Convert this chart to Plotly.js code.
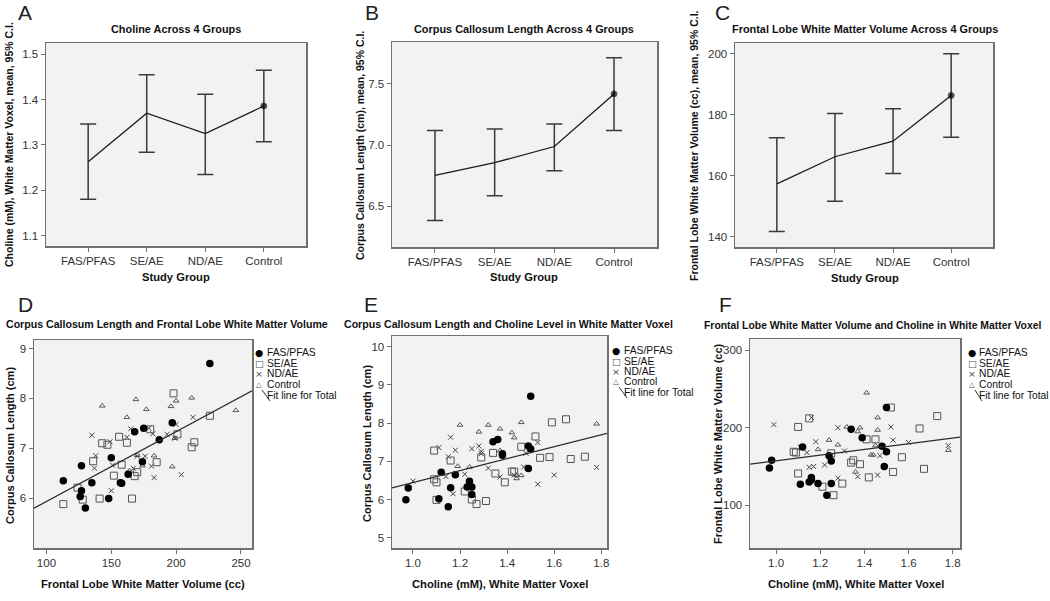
<!DOCTYPE html>
<html>
<head>
<meta charset="utf-8">
<script src="https://cdn.plot.ly/plotly-3.0.1.min.js"></script>
<style>
  html, body { margin: 0; padding: 0; background: #fff; }
  #chart { width: 1050px; height: 601px; }
</style>
</head>
<body>
<div id="chart"></div>
<script>
const GROUPS = ['FAS/PFAS', 'SE/AE', 'ND/AE', 'Control'];

// A-C: group means with 95% C.I.
const CHOLINE_MEAN = [1.263, 1.370, 1.325, 1.386];
const CHOLINE_LO = [1.180, 1.284, 1.235, 1.307];
const CHOLINE_HI = [1.346, 1.455, 1.412, 1.465];

const CC_MEAN = [6.754, 6.857, 6.989, 7.419];
const CC_LO = [6.384, 6.586, 6.792, 7.119];
const CC_HI = [7.119, 7.132, 7.173, 7.714];

const WM_MEAN = [157.3, 166.2, 171.3, 186.3];
const WM_LO = [141.7, 151.6, 160.7, 172.6];
const WM_HI = [172.4, 180.4, 181.9, 200.0];

// D: frontal lobe WM volume (x) vs corpus callosum length (y)
const D_FAS_X = [113, 127, 127, 126, 130, 135, 148, 150, 157, 158, 163, 168, 175, 174, 187, 197, 226];
const D_FAS_Y = [6.35, 6.65, 6.15, 6.03, 5.80, 6.31, 5.99, 6.81, 6.31, 6.30, 6.48, 7.33, 7.40, 6.73, 7.17, 7.51, 8.70];
const D_SE_X = [113, 124, 128, 136, 141, 143, 147, 152, 156, 158, 162, 166, 168, 170, 180, 185, 198, 201, 212, 214, 226];
const D_SE_Y = [5.88, 6.21, 5.97, 6.74, 5.99, 7.10, 7.07, 6.45, 7.23, 6.67, 7.11, 5.99, 6.44, 6.52, 7.38, 6.72, 8.10, 7.28, 7.02, 7.12, 7.65];
const D_ND_X = [135, 137, 138, 149, 150, 151, 162, 165, 167, 170, 176, 179, 181, 182, 183, 193, 199, 200, 204, 213];
const D_ND_Y = [7.26, 6.60, 6.85, 7.13, 6.15, 6.66, 7.22, 7.39, 6.60, 6.84, 6.84, 7.40, 6.64, 7.29, 6.41, 7.28, 7.20, 7.48, 6.47, 7.62];
const D_CTL_X = [143, 162, 164, 169, 170, 174, 177, 183, 196, 197, 199, 200, 212, 246];
const D_CTL_Y = [7.85, 7.62, 6.55, 7.98, 6.86, 6.65, 7.78, 6.85, 7.84, 6.63, 7.20, 7.95, 8.01, 7.76];
const D_FIT = { intercept: 4.532, slope: 0.014 };

// E: choline (x) vs corpus callosum length (y)
const E_FAS_X = [0.97, 0.98, 1.11, 1.12, 1.15, 1.16, 1.18, 1.23, 1.24, 1.25, 1.25, 1.34, 1.36, 1.38, 1.38, 1.49, 1.50, 1.49, 1.50];
const E_FAS_Y = [5.99, 6.30, 6.02, 6.71, 5.81, 6.31, 6.65, 6.33, 6.48, 6.33, 6.13, 7.51, 7.57, 7.16, 7.20, 7.40, 7.32, 6.81, 8.70];
const E_SE_X = [1.09, 1.09, 1.10, 1.10, 1.16, 1.22, 1.25, 1.27, 1.29, 1.31, 1.34, 1.35, 1.39, 1.42, 1.43, 1.46, 1.52, 1.54, 1.58, 1.59, 1.65, 1.67, 1.73];
const E_SE_Y = [7.28, 6.53, 6.45, 5.99, 7.02, 6.21, 6.00, 5.88, 7.10, 5.96, 7.22, 6.68, 6.45, 6.73, 6.73, 7.38, 7.65, 7.09, 7.11, 8.02, 8.10, 7.06, 7.12];
const E_ND_X = [1.00, 1.11, 1.14, 1.15, 1.16, 1.17, 1.18, 1.22, 1.25, 1.28, 1.29, 1.29, 1.32, 1.37, 1.43, 1.47, 1.48, 1.53, 1.53, 1.60, 1.78];
const E_ND_Y = [6.48, 7.36, 6.60, 7.12, 7.63, 6.15, 7.29, 6.66, 7.33, 7.40, 7.20, 7.26, 6.82, 6.59, 6.64, 6.85, 7.21, 7.49, 6.40, 6.64, 6.84];
const E_CTL_X = [1.19, 1.20, 1.24, 1.28, 1.32, 1.37, 1.37, 1.42, 1.43, 1.44, 1.44, 1.46, 1.46, 1.78];
const E_CTL_Y = [6.87, 7.95, 6.85, 7.77, 7.95, 7.85, 7.28, 7.75, 7.62, 6.63, 6.55, 6.63, 8.02, 7.98];
const E_FIT = { intercept: 4.883, slope: 1.561 };

// F: choline (x) vs frontal lobe WM volume (y)
const F_FAS_X = [0.97, 0.98, 1.11, 1.12, 1.15, 1.16, 1.16, 1.19, 1.23, 1.24, 1.25, 1.25, 1.34, 1.39, 1.48, 1.49, 1.50, 1.50];
const F_FAS_Y = [148, 158, 127, 175, 130, 136, 133, 128, 113, 164, 157, 128, 198, 187, 176, 150, 169, 226];
const F_SE_X = [1.08, 1.09, 1.10, 1.10, 1.15, 1.21, 1.25, 1.26, 1.30, 1.34, 1.35, 1.38, 1.41, 1.42, 1.45, 1.52, 1.53, 1.57, 1.65, 1.67, 1.73];
const F_SE_Y = [169, 168, 141, 201, 212, 124, 167, 113, 128, 155, 158, 153, 185, 136, 185, 226, 143, 162, 199, 147, 215];
const F_ND_X = [0.99, 1.11, 1.14, 1.15, 1.16, 1.17, 1.18, 1.22, 1.28, 1.28, 1.31, 1.37, 1.46, 1.47, 1.52, 1.53, 1.60, 1.78];
const F_ND_Y = [204, 175, 168, 149, 213, 150, 182, 152, 200, 135, 170, 137, 139, 164, 201, 184, 181, 177];
const F_CTL_X = [1.19, 1.24, 1.28, 1.32, 1.36, 1.37, 1.38, 1.41, 1.43, 1.44, 1.45, 1.46, 1.46, 1.78];
const F_CTL_Y = [172, 184, 178, 201, 143, 195, 200, 245, 165, 165, 177, 213, 197, 171];
const F_FIT = { intercept: 120.5, slope: 36.8 };

const W = 1050, H = 601;
const FONT = 'Liberation Sans, Arial, Helvetica, sans-serif';
const FRAME = '#707070';
const INK = '#333';

// panel frames in page pixels: [left, top, right, bottom]
const BOXES = {
  A: [46, 43, 306, 246],
  B: [392, 42, 657, 247],
  C: [735, 43, 993, 247],
  D: [34, 340, 252, 548],
  E: [392, 336, 607, 548],
  F: [750, 339, 960, 548],
};

function px(x) { return x / W; }
function py(y) { return 1 - y / H; }

function axis(box, isX, extra) {
  const [l, t, r, b] = box;
  return Object.assign({
    domain: isX ? [px(l), px(r)] : [py(b), py(t)],
    showgrid: false,
    zeroline: false,
    showline: true,
    mirror: true,
    linecolor: FRAME,
    linewidth: 1.5,
    ticks: 'outside',
    ticklen: 4,
    tickwidth: 1,
    tickcolor: FRAME,
    tickfont: { family: FONT, size: 11.5, color: INK },
    fixedrange: true,
  }, extra);
}

const data = [];
const layout = {
  width: W,
  height: H,
  margin: { l: 0, r: 0, t: 0, b: 0 },
  paper_bgcolor: '#fff',
  plot_bgcolor: '#f2f2f2',
  showlegend: false,
  annotations: [],
  shapes: [],
};

// --- top row: means with error bars ---
function addMeans(n, key, mean, lo, hi, yExtra) {
  const xa = 'x' + (n === 1 ? '' : n);
  const ya = 'y' + (n === 1 ? '' : n);
  data.push({
    x: GROUPS,
    y: mean,
    xaxis: xa,
    yaxis: ya,
    mode: 'lines+markers',
    line: { color: '#1a1a1a', width: 1.3 },
    marker: { color: '#000', size: mean.map((v, i) => i === mean.length - 1 ? 6 : 0) },
    error_y: {
      type: 'data',
      symmetric: false,
      array: hi.map((v, i) => v - mean[i]),
      arrayminus: mean.map((v, i) => v - lo[i]),
      color: '#3a3a3a',
      thickness: 1.5,
      width: 8,
    },
    hoverinfo: 'skip',
  });
  layout['xaxis' + (n === 1 ? '' : n)] = axis(BOXES[key], true, {
    anchor: ya, type: 'category', categoryarray: GROUPS, range: [-0.72, 3.72],
  });
  layout['yaxis' + (n === 1 ? '' : n)] = axis(BOXES[key], false, Object.assign({ anchor: xa }, yExtra));
}

addMeans(1, 'A', CHOLINE_MEAN, CHOLINE_LO, CHOLINE_HI, { range: [1.077, 1.525], dtick: 0.1, tickformat: '.1f' });
addMeans(2, 'B', CC_MEAN, CC_LO, CC_HI, { range: [6.168, 7.843], dtick: 0.5, tickformat: '.1f' });
addMeans(3, 'C', WM_MEAN, WM_LO, WM_HI, { range: [136.6, 203.5], dtick: 20 });

// --- bottom row: scatter by group with fit line ---
const GROUP_STYLE = [
  { symbol: 'circle', size: 7.5, color: '#000', line: { width: 0 } },
  { symbol: 'square-open', size: 7, color: '#555', line: { width: 1, color: '#555' } },
  { symbol: 'x-thin-open', size: 5, color: '#444', line: { width: 1, color: '#444' } },
  { symbol: 'triangle-up-open', size: 5, color: '#555', line: { width: 1, color: '#555' } },
];

function addScatter(n, key, series, fit, xRange, yRange, xExtra, yExtra) {
  const xa = 'x' + n, ya = 'y' + n;
  // draw controls first, FAS on top
  [3, 2, 1, 0].forEach(g => {
    data.push({
      x: series[g][0],
      y: series[g][1],
      xaxis: xa,
      yaxis: ya,
      mode: 'markers',
      marker: GROUP_STYLE[g],
      cliponaxis: false,
      hoverinfo: 'skip',
    });
  });
  data.push({
    x: xRange,
    y: xRange.map(v => fit.intercept + fit.slope * v),
    xaxis: xa,
    yaxis: ya,
    mode: 'lines',
    line: { color: '#2a2a2a', width: 1.2 },
    hoverinfo: 'skip',
  });
  layout['xaxis' + n] = axis(BOXES[key], true, Object.assign({ anchor: ya, range: xRange }, xExtra));
  layout['yaxis' + n] = axis(BOXES[key], false, Object.assign({ anchor: xa, range: yRange }, yExtra));
}

addScatter(4, 'D',
  [[D_FAS_X, D_FAS_Y], [D_SE_X, D_SE_Y], [D_ND_X, D_ND_Y], [D_CTL_X, D_CTL_Y]],
  D_FIT, [90.4, 258.5], [5.0, 9.17],
  { tickvals: [100, 150, 200, 250] }, { tickvals: [6, 7, 8, 9] });
addScatter(5, 'E',
  [[E_FAS_X, E_FAS_Y], [E_SE_X, E_SE_Y], [E_ND_X, E_ND_Y], [E_CTL_X, E_CTL_Y]],
  E_FIT, [0.911, 1.824], [4.73, 10.28],
  { dtick: 0.2, tick0: 1.0, tickformat: '.1f' }, { dtick: 1 });
addScatter(6, 'F',
  [[F_FAS_X, F_FAS_Y], [F_SE_X, F_SE_Y], [F_ND_X, F_ND_Y], [F_CTL_X, F_CTL_Y]],
  F_FIT, [0.882, 1.833], [45, 314.3],
  { dtick: 0.2, tick0: 1.0, tickformat: '.1f' }, { dtick: 100 });

// --- text ---
function note(text, x, y, size, extra) {
  layout.annotations.push(Object.assign({
    text, x: px(x), y: py(y), xref: 'paper', yref: 'paper',
    showarrow: false, xanchor: 'center', yanchor: 'middle',
    font: { family: FONT, size, color: '#111' },
  }, extra));
}

// panel letters
[['A', 25, 13], ['B', 372, 13], ['C', 722, 13], ['D', 25, 304], ['E', 371, 304], ['F', 725, 304]]
  .forEach(([t, x, y]) => note(t, x, y, 21, { font: { family: FONT, size: 21, color: '#222' } }));

// panel titles
note('<b>Choline Across 4 Groups</b>', 176, 29, 10.9);
note('<b>Corpus Callosum Length Across 4 Groups</b>', 524, 29, 10.9);
note('<b>Frontal Lobe White Matter Volume Across 4 Groups</b>', 865, 29, 10.9);
note('<b>Corpus Callosum Length and Frontal Lobe White Matter Volume</b>', 167, 324, 10.6);
note('<b>Corpus Callosum Length and Choline Level in White Matter Voxel</b>', 508, 324, 10.6);
note('<b>Frontal Lobe White Matter Volume and Choline in White Matter Voxel</b>', 872, 325, 10.4);

// axis titles
note('<b>Study Group</b>', 176, 277, 11.2);
note('<b>Study Group</b>', 524, 277, 11.2);
note('<b>Study Group</b>', 865, 278, 11.2);
note('<b>Choline (mM), White Matter Voxel, mean, 95% C.I.</b>', 9, 145, 10.5, { textangle: -90 });
note('<b>Corpus Callosum Length (cm), mean, 95% C.I.</b>', 360, 146, 10.5, { textangle: -90 });
note('<b>Frontal Lobe White Matter Volume (cc), mean, 95% C.I.</b>', 694, 146, 10.5, { textangle: -90 });

note('<b>Frontal Lobe White Matter Volume (cc)</b>', 143, 584, 11.2);
note('<b>Choline (mM), White Matter Voxel</b>', 500, 584, 11.2);
note('<b>Choline (mM), White Matter Voxel</b>', 856, 584, 11.2);
note('<b>Corpus Callosum Length (cm)</b>', 10, 446, 11, { textangle: -90 });
note('<b>Corpus Callosum Length (cm)</b>', 367, 444, 11, { textangle: -90 });
note('<b>Frontal Lobe White Matter Volume (cc)</b>', 718, 444, 11, { textangle: -90 });

// legends for scatter panels
const LEGEND_GLYPHS = [
  { t: '●', size: 9.5, color: '#000' },
  { t: '□', size: 9.5, color: '#555' },
  { t: '×', size: 9.5, color: '#444' },
  { t: '△', size: 7.5, color: '#555' },
];
function legend(markX, textX, rowY) {
  const f = { family: FONT, size: 10.3, color: '#111' };
  GROUPS.forEach((g, i) => {
    const gl = LEGEND_GLYPHS[i];
    note(gl.t, markX, rowY[i], gl.size, { font: { family: 'DejaVu Sans', size: gl.size, color: gl.color } });
    note(g, textX, rowY[i], 10.3, { xanchor: 'left', font: f });
  });
  note('Fit line for Total', textX, rowY[4], 10.3, { xanchor: 'left', font: f });
  layout.shapes.push({
    type: 'line', xref: 'paper', yref: 'paper',
    x0: px(markX + 3), y0: py(rowY[3] + 6), x1: px(textX + 5), y1: py(rowY[4] + 6),
    line: { color: '#333', width: 1 },
  });
}
legend(259, 265, [352, 363, 373, 384, 395]);
legend(616, 622, [350, 361, 371, 381, 392]);
legend(972, 977, [352, 363, 373, 384, 395]);

Plotly.newPlot('chart', data, layout, { displayModeBar: false, staticPlot: true });
</script>
</body>
</html>
